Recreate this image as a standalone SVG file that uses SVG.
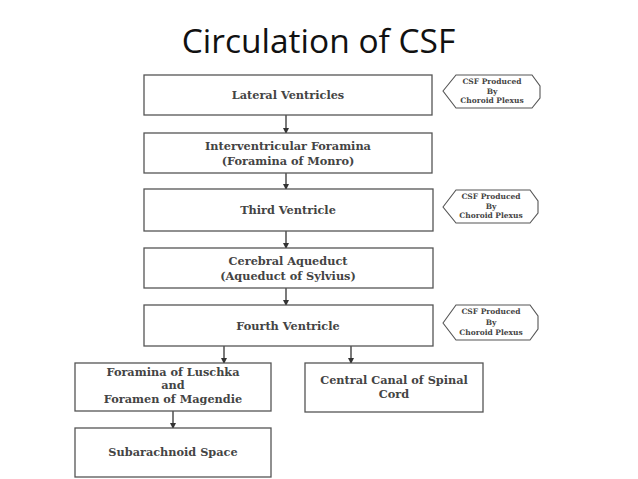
<svg xmlns="http://www.w3.org/2000/svg" width="638" height="479" viewBox="0 0 638 479">
<style>
.box{fill:#fff;stroke:#555;stroke-width:1.3}
.hex{fill:#fff;stroke:#555;stroke-width:1.1}
.t{font-family:"DejaVu Serif","Liberation Serif",serif;font-weight:bold;font-size:11.3px;fill:#444;text-anchor:middle}
.s{font-family:"DejaVu Serif","Liberation Serif",serif;font-weight:bold;font-size:7.5px;fill:#444;text-anchor:middle}
.c{stroke:#333;stroke-width:1.3;fill:none}
</style>
<defs>
<marker id="ah" markerWidth="6" markerHeight="6" refX="5" refY="3" orient="auto" markerUnits="userSpaceOnUse">
<path d="M0,0 L6,3 L0,6 Z" fill="#333"/>
</marker>
</defs>
<rect width="638" height="479" fill="#fff"/>
<text x="318.5" y="53" font-family="Open Sans, Liberation Sans, sans-serif" font-size="33.5" fill="#111" text-anchor="middle">Circulation of CSF</text>

<g id="connectors">
<line class="c" x1="286" y1="115" x2="286" y2="133" marker-end="url(#ah)"/>
<line class="c" x1="286" y1="173" x2="286" y2="189" marker-end="url(#ah)"/>
<line class="c" x1="286" y1="231" x2="286" y2="248" marker-end="url(#ah)"/>
<line class="c" x1="286" y1="288" x2="286" y2="305" marker-end="url(#ah)"/>
<line class="c" x1="224" y1="346" x2="224" y2="363" marker-end="url(#ah)"/>
<line class="c" x1="351" y1="346" x2="351" y2="363" marker-end="url(#ah)"/>
<line class="c" x1="173" y1="411" x2="173" y2="428" marker-end="url(#ah)"/>
</g>

<g id="lateral">
<rect class="box" x="144" y="75" width="288" height="40"/>
<text class="t" x="288" y="99">Lateral Ventricles</text>
</g>
<g id="interventricular">
<rect class="box" x="144" y="133" width="288" height="40"/>
<text class="t" x="288" y="150">Interventricular Foramina</text>
<text class="t" x="288" y="165">(Foramina of Monro)</text>
</g>
<g id="third">
<rect class="box" x="144" y="189" width="289" height="42"/>
<text class="t" x="288" y="214">Third Ventricle</text>
</g>
<g id="aqueduct">
<rect class="box" x="144" y="248" width="289" height="40"/>
<text class="t" x="288" y="265">Cerebral Aqueduct</text>
<text class="t" x="288" y="280">(Aqueduct of Sylvius)</text>
</g>
<g id="fourth">
<rect class="box" x="144" y="305" width="289" height="41"/>
<text class="t" x="288" y="330">Fourth Ventricle</text>
</g>
<g id="luschka">
<rect class="box" x="75" y="363" width="196" height="48"/>
<text class="t" x="173" y="376">Foramina of Luschka</text>
<text class="t" x="173" y="389">and</text>
<text class="t" x="173" y="403">Foramen of Magendie</text>
</g>
<g id="central">
<rect class="box" x="305" y="363" width="178" height="49"/>
<text class="t" x="394" y="384">Central Canal of Spinal</text>
<text class="t" x="394" y="398">Cord</text>
</g>
<g id="subarachnoid">
<rect class="box" x="75" y="428" width="196" height="49"/>
<text class="t" x="173" y="456">Subarachnoid Space</text>
</g>

<g id="hex1">
<polygon class="hex" points="443,91 456,75 532,75 540,86 540,98 532,108 456,108"/>
<text class="s" x="492" y="84">CSF Produced</text>
<text class="s" x="492" y="94">By</text>
<text class="s" x="492" y="103">Choroid Plexus</text>
</g>
<g id="hex2">
<polygon class="hex" points="443,207 456,190 530,190 538,201 538,213 530,223 456,223"/>
<text class="s" x="491" y="199">CSF Produced</text>
<text class="s" x="491" y="209">By</text>
<text class="s" x="491" y="218">Choroid Plexus</text>
</g>
<g id="hex3">
<polygon class="hex" points="443,323 456,305 530,305 538,316 538,329 530,340 456,340"/>
<text class="s" x="491" y="314">CSF Produced</text>
<text class="s" x="491" y="325">By</text>
<text class="s" x="491" y="335">Choroid Plexus</text>
</g>
</svg>
